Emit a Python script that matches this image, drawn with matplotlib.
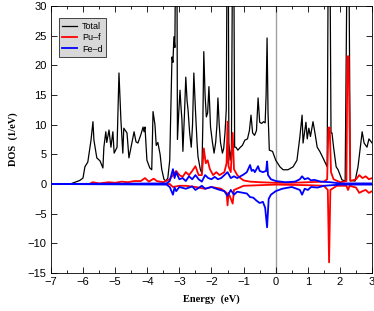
import numpy as np
import matplotlib
matplotlib.use('Agg')
import matplotlib.pyplot as plt
from matplotlib.ticker import MultipleLocator

plt.rcParams['font.family'] = ['Liberation Sans', 'DejaVu Sans']

# Total DOS (black)
e_total = [-7.0, -6.4, -6.3, -6.1, -6.0, -5.94, -5.85, -5.75, -5.69, -5.66, -5.57, -5.47, -5.38, -5.35,
           -5.29, -5.26, -5.19, -5.13, -5.07, -5.03, -4.94, -4.88, -4.82, -4.76, -4.73, -4.63, -4.57,
           -4.48, -4.41, -4.35, -4.29, -4.2, -4.13, -4.1, -4.07, -4.01, -3.92, -3.86, -3.82, -3.76,
           -3.72, -3.67, -3.6, -3.55, -3.48, -3.42, -3.36, -3.3, -3.26, -3.23, -3.2, -3.17, -3.14,
           -3.11, -3.08, -3.06, -3.02, -2.98, -2.95, -2.92, -2.89, -2.84, -2.8, -2.76, -2.73, -2.68,
           -2.63, -2.59, -2.55, -2.5, -2.45, -2.42, -2.35, -2.3, -2.27, -2.24, -2.2, -2.16, -2.12,
           -2.08, -2.03, -1.97, -1.92, -1.87, -1.83, -1.8, -1.76, -1.72, -1.66, -1.62, -1.58, -1.54,
           -1.51, -1.48, -1.46, -1.42, -1.38, -1.34, -1.31, -1.28, -1.24, -1.18, -1.1, -1.04, -0.96,
           -0.88, -0.82, -0.77, -0.72, -0.66, -0.6, -0.55, -0.5, -0.44, -0.38, -0.33, -0.3, -0.27,
           -0.24, -0.2, -0.1, 0.0, 0.13, 0.23, 0.38, 0.54, 0.66, 0.75, 0.82, 0.85, 0.94, 0.98, 1.03,
           1.08, 1.16, 1.22, 1.29, 1.38, 1.47, 1.6, 1.64, 1.68, 1.72, 1.75, 1.8, 1.88, 1.94, 2.06,
           2.16, 2.23, 2.27, 2.32, 2.47, 2.56, 2.69, 2.75, 2.84, 2.9, 3.0]
dos_total = [0, 0, 0.2, 0.6, 1.0, 2.9, 3.7, 7.4, 10.5, 7.4, 4.4, 3.9, 2.7, 6.2,
             8.8, 7.0, 9.1, 6.2, 8.8, 5.2, 6.2, 18.7, 10.8, 5.2, 9.4, 8.6, 4.4,
             6.9, 8.8, 7.1, 6.9, 8.3, 9.6, 8.8, 9.6, 4.0, 2.7, 2.4, 12.2, 10.0,
             6.5, 7.0, 5.0, 2.5, 0.8, 0.5, 1.0, 4.0, 14, 21.4, 20.5, 24.8, 23,
             45, 45, 7.5, 12, 15.8, 13, 10.8, 5.5, 12, 18, 14, 12.5, 8.6,
             6.2, 10, 18.7, 12.5, 7, 4.6, 2.5, 1.8, 10, 22.3, 15, 11.3, 12,
             16.4, 9.6, 7.0, 5.2, 7, 10, 14.5, 10, 7, 5.2, 6, 8.6, 12.5,
             45, 45, 7, 4.0, 6, 45, 45, 6.2, 6.2, 5.7, 6.2, 6.5, 7.4,
             7.6, 9, 11.6, 8.6, 8.2, 9, 14.5, 10.4, 10.2, 10.5, 10.3, 15, 24.6,
             12, 5.7, 5.5, 4.0, 2.9, 2.4, 2.4, 2.9, 4.0, 7.9, 11.6, 6.9, 10.4, 7.6, 9.4,
             8, 10.5, 8.6, 6.2, 5.4, 4.4, 2.9, 45, 45, 8.6, 8.6, 6.2, 2.9, 2.4, 0.7,
             0.5, 45, 45, 0.6, 0.5, 2.9, 8.8, 6.9, 6.2, 7.6, 6.9]

# Pu-f spin up / spin down (red)
e_puf_up = [-7.0, -5.8, -5.7, -5.5, -5.2, -5.0, -4.8, -4.6, -4.4, -4.2, -4.07, -3.95, -3.8, -3.7, -3.5,
            -3.3, -3.2, -3.1, -3.0, -2.9, -2.8, -2.7, -2.6, -2.5, -2.4, -2.3, -2.24, -2.18, -2.12,
            -2.05, -1.95, -1.85, -1.75, -1.6, -1.53, -1.5, -1.47, -1.4, -1.34, -1.3, -1.2, -1.1,
            -1.0, -0.8, -0.5, 0.0, 0.5, 1.0, 1.5, 1.6, 1.64, 1.68, 1.72, 1.8, 2.0, 2.2, 2.23, 2.27,
            2.32, 2.5, 2.6, 2.7, 2.8, 2.9, 3.0]
dos_puf_up = [0, 0, 0.3, 0.1, 0.3, 0.2, 0.4, 0.3, 0.5, 0.5, 1.0, 0.4, 0.9, 0.5, 0.3,
              0.8, 1.5, 2.2, 1.5, 1.2, 2.0, 1.5, 2.2, 3.0, 1.5, 1.5, 6.0, 3.5, 4.0,
              2.5, 1.5, 2.0, 1.5, 2.0, 3.5, 10.5, 3.0, 2.0, 8.6, 2.5, 1.5, 1.0,
              0.6, 0.4, 0.3, 0.2, 0.2, 0.3, 0.4, 0.8, 9.5, 9.5, 2.0, 0.8, 0.3, 0.5, 21.5, 21.5,
              0.5, 0.8, 1.5, 1.0, 1.3, 0.8, 1.0]
e_puf_dn = [-7.0, -3.3, -3.2, -3.0, -2.8, -2.5, -2.2, -2.0, -1.7, -1.53, -1.5, -1.47, -1.34, -1.3,
            -1.0, 0.0, 1.0, 1.5, 1.62, 1.66, 1.7, 1.9, 2.2, 2.25, 2.3, 2.5, 2.6, 2.7, 2.8, 2.9, 3.0]
dos_puf_dn = [0, 0, -0.5, -0.3, -0.3, -0.5, -0.8, -0.5, -0.8, -1.5, -3.6, -1.5, -3.3, -1.0,
              -0.3, -0.1, -0.2, -0.3, -1.0, -13.2, -1.0, -0.3, -0.3, -1.0, -0.3, -0.6, -1.5, -1.2, -1.0, -1.5, -1.2]

# Fe-d spin up / spin down (blue)
e_fed_up = [-7.0, -3.4, -3.3, -3.2, -3.15, -3.1, -3.0, -2.9, -2.8, -2.7, -2.6, -2.5, -2.4, -2.3, -2.2,
            -2.1, -2.0, -1.9, -1.8, -1.7, -1.6, -1.5, -1.4, -1.3, -1.2, -1.1, -1.0, -0.9, -0.8, -0.75,
            -0.7, -0.65, -0.55, -0.5, -0.4, -0.3, -0.27, -0.24, -0.15, 0.0, 0.3, 0.6, 0.75, 0.82, 0.9,
            1.0, 1.1, 1.2, 1.4, 1.7, 2.0, 3.0]
dos_fed_up = [0, 0.1, 0.5, 2.5, 1.0, 2.0, 0.8, 1.0, 0.5, 1.3, 0.8, 1.5, 0.8, 0.4, 1.5,
              1.0, 0.8, 1.2, 0.8, 1.0, 1.5, 2.0, 1.0, 1.3, 1.0, 1.3, 1.6, 2.0, 3.2, 2.2,
              2.4, 2.0, 3.0, 2.2, 2.0, 2.2, 3.8, 1.5, 0.8, 0.5, 0.3, 0.4, 0.8, 1.3, 0.8,
              1.0, 0.6, 0.7, 0.4, 0.3, 0.1, 0.1]
e_fed_dn = [-7.0, -3.4, -3.3, -3.2, -3.15, -3.1, -3.0, -2.8, -2.6, -2.5, -2.3, -2.2, -2.0, -1.8, -1.6,
            -1.5, -1.4, -1.3, -1.2, -1.0, -0.9, -0.8, -0.7, -0.6, -0.5, -0.4, -0.33, -0.27, -0.22,
            -0.15, 0.0, 0.2, 0.5, 0.75, 0.82, 0.9, 1.0, 1.1, 1.3, 1.5, 2.0, 3.0]
dos_fed_dn = [0, -0.1, -0.5, -1.8, -0.6, -1.2, -0.5, -0.8, -0.4, -1.0, -0.3, -0.8, -0.5, -0.9, -1.2,
              -2.0, -1.0, -1.8, -1.3, -1.5, -1.6, -2.2, -2.3, -2.8, -3.2, -3.0, -4.0, -7.3, -2.5,
              -1.8, -1.2, -0.8, -0.5, -1.0, -1.8, -0.8, -1.0, -0.5, -0.6, -0.3, -0.1, -0.1]

fig = plt.figure(figsize=(3.74, 3.11), dpi=100)
ax = fig.add_axes([0.136, 0.122, 0.859, 0.859])

ax.axvline(0, color='#a0a0a0', lw=1.0, zorder=1)
ax.plot(e_total, dos_total, color='black', lw=0.9, label='Total', zorder=2)
ax.plot(e_puf_up, dos_puf_up, color='red', lw=1.3, label='Pu\u2013f', zorder=3)
ax.plot(e_puf_dn, dos_puf_dn, color='red', lw=1.3, zorder=3)
ax.plot(e_fed_up, dos_fed_up, color='blue', lw=1.3, label='Fe\u2013d', zorder=4)
ax.plot(e_fed_dn, dos_fed_dn, color='blue', lw=1.3, zorder=4)

ax.set_xlim(-7, 3)
ax.set_ylim(-15, 30)
ax.xaxis.set_major_locator(MultipleLocator(1))
ax.xaxis.set_minor_locator(MultipleLocator(0.5))
ax.yaxis.set_major_locator(MultipleLocator(5))
ax.tick_params(which='both', direction='in', top=True, right=True, labelsize=8, pad=3)
ax.tick_params(which='major', length=4, width=0.6)
ax.tick_params(which='minor', length=2, width=0.6)
for s in ax.spines.values():
    s.set_linewidth(0.6)

ax.set_xlabel('Energy  (eV)', family='Liberation Serif', fontweight='bold', fontsize=7.5, labelpad=5)
ax.set_ylabel('DOS  (1/eV)', family='Liberation Serif', fontweight='bold', fontsize=7.5, labelpad=7)

leg = ax.legend(loc='upper left', fontsize=6.5, frameon=True, fancybox=False,
                handlelength=1.6, borderpad=0.4, labelspacing=0.25, handletextpad=0.6,
                bbox_to_anchor=(0.01, 0.97))
leg.get_frame().set_facecolor('#d8d8d8')
leg.get_frame().set_edgecolor('black')
leg.get_frame().set_linewidth(0.5)
leg.get_frame().set_alpha(1)

fig.savefig('out.png', dpi=100)
